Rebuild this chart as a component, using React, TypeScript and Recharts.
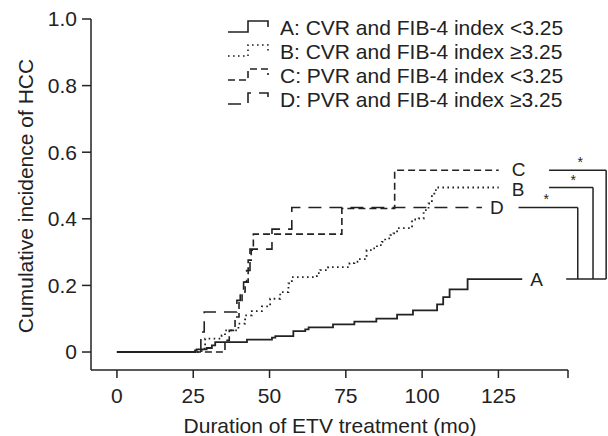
import { LineChart, Line, XAxis, YAxis, ReferenceLine, ReferenceDot } from 'recharts';

// months of ETV treatment at each step, and cumulative incidence after the step
const monthsA = [0, 25.6, 26.1, 29.4, 31.1, 32.2, 42.6, 50.8, 51.9, 57.8, 61.7, 62.8, 70.8, 77.8, 85.0, 91.8, 97.0, 104.9, 106.9, 109.0, 114.9, 132.8];
const incidenceA = [0, 0.005, 0.008, 0.012, 0.02, 0.03, 0.037, 0.043, 0.048, 0.063, 0.068, 0.074, 0.083, 0.091, 0.1, 0.112, 0.125, 0.143, 0.165, 0.188, 0.219, 0.219];

const monthsB = [0, 27.8, 28.9, 34.3, 35.4, 39.8, 42.0, 44.2, 47.5, 50.2, 53.5, 56.2, 57.3, 65.5, 66.6, 69.2, 76.2, 77.8, 79.2, 81.8, 83.6, 85.2, 86.8, 87.9, 89.6, 90.6, 91.8, 96.7, 98.9, 100.5, 102.1, 103.2, 104.0, 104.9, 125.1];
const incidenceB = [0, 0.01, 0.04, 0.05, 0.065, 0.085, 0.11, 0.123, 0.137, 0.16, 0.18, 0.206, 0.225, 0.237, 0.246, 0.255, 0.267, 0.271, 0.279, 0.306, 0.311, 0.321, 0.331, 0.341, 0.351, 0.356, 0.372, 0.398, 0.401, 0.426, 0.446, 0.471, 0.486, 0.494, 0.494];

const monthsC = [0, 35.4, 36.8, 38.7, 40.0, 41.0, 42.0, 43.0, 44.0, 44.7, 73.7, 91.0, 125.1];
const incidenceC = [0, 0.035, 0.065, 0.105, 0.155, 0.18, 0.21, 0.276, 0.306, 0.354, 0.431, 0.546, 0.546];

const monthsD = [0, 27.5, 28.6, 39.3, 40.4, 41.5, 42.5, 43.6, 50.8, 57.3, 119.6];
const incidenceD = [0, 0.06, 0.12, 0.155, 0.18, 0.21, 0.245, 0.309, 0.369, 0.434, 0.434];

const xTicks = [0, 25, 50, 75, 100, 125, 147.8];
const yTicks = [0, 0.2, 0.4, 0.6, 0.8, 1.0];

const legendLabels = [
  'A: CVR and FIB-4 index <3.25',
  'B: CVR and FIB-4 index ≥3.25',
  'C: PVR and FIB-4 index <3.25',
  'D: PVR and FIB-4 index ≥3.25',
];

const toPoints = (xs: number[], ys: number[]) => xs.map((x, i) => ({ x, y: ys[i] }));

const ptsA = toPoints(monthsA, incidenceA);
const ptsB = toPoints(monthsB, incidenceB);
const ptsC = toPoints(monthsC, incidenceC);
const ptsD = toPoints(monthsD, incidenceD);

const INK = '#222';
const FONT = '"Liberation Sans", Arial, Helvetica, sans-serif';
const dashes = [undefined, '1.6 3.4', '7 4', '13 8'];

const last = (a: number[]) => a[a.length - 1];
const endA = last(incidenceA);
const endB = last(incidenceB);
const endC = last(incidenceC);
const endD = last(incidenceD);

// bracket columns (months, outside the plotted range)
const brC = 160.3, brB = 156.0, brD = 151.0;

const letter = (txt: string, dx: number, dy = 0) => (p: any) => (
  <text x={p.cx + dx} y={p.cy + dy} dy="0.36em" fontSize={19} fontFamily={FONT} fill={INK}>{txt}</text>
);
const star = (p: any) => (
  <text x={p.cx} y={p.cy - 3} textAnchor="middle" fontSize={14} fontFamily={FONT} fill={INK}>*</text>
);

function Overlay() {
  const rows = [27, 51, 75, 99];
  return (
    <svg width={608} height={436} style={{ position: 'absolute', left: 0, top: 0, pointerEvents: 'none' }}>
      {rows.map((cy, i) => (
        <g key={i}>
          <path
            d={`M228 ${cy + 5} H248 V${cy - 6} H268 V${cy}`}
            fill="none"
            stroke={INK}
            strokeWidth={1.6}
            strokeDasharray={dashes[i]}
          />
          <text x={280} y={cy} dy="0.36em" fontSize={21} fontFamily={FONT} fill={INK}>{legendLabels[i]}</text>
        </g>
      ))}
      <text x={25} y={196} transform="rotate(-90 25 196)" textAnchor="middle" dy="0.36em" fontSize={21} fontFamily={FONT} fill={INK}>
        Cumulative incidence of HCC
      </text>
      <text x={330} y={433} textAnchor="middle" fontSize={21} fontFamily={FONT} fill={INK}>
        Duration of ETV treatment (mo)
      </text>
    </svg>
  );
}

export default function App() {
  const tickStyle = { fontSize: 21, fontFamily: FONT, fill: INK };
  return (
    <div style={{ position: 'fixed', left: 0, top: 0, width: 608, height: 436, background: '#fff' }}>
      <LineChart width={608} height={436} margin={{ top: 19, right: 40, left: 31, bottom: 36 }}>
        <XAxis
          dataKey="x"
          type="number"
          domain={[-8.5, 147.8]}
          ticks={xTicks}
          allowDataOverflow
          tickFormatter={(v: number) => (v > 130 ? '' : String(v))}
          stroke={INK}
          strokeWidth={1.5}
          tickSize={8}
          tickMargin={10}
          height={30}
          tick={tickStyle}
        />
        <YAxis
          dataKey="y"
          type="number"
          domain={[-0.054, 1]}
          ticks={yTicks}
          allowDataOverflow
          tickFormatter={(v: number) => (v === 0 ? '0' : v.toFixed(1))}
          stroke={INK}
          strokeWidth={1.5}
          tickSize={9}
          tickMargin={5}
          width={60}
          tick={tickStyle}
        />
        <Line data={ptsA} dataKey="y" type="stepAfter" stroke={INK} strokeWidth={1.8} dot={false} isAnimationActive={false} />
        <Line data={ptsB} dataKey="y" type="stepAfter" stroke={INK} strokeWidth={1.8} strokeDasharray={dashes[1]} dot={false} isAnimationActive={false} />
        <Line data={ptsC} dataKey="y" type="stepAfter" stroke={INK} strokeWidth={1.6} strokeDasharray={dashes[2]} dot={false} isAnimationActive={false} />
        <Line data={ptsD} dataKey="y" type="stepAfter" stroke={INK} strokeWidth={1.6} strokeDasharray={dashes[3]} dot={false} isAnimationActive={false} />

        <ReferenceDot x={last(monthsA)} y={endA} r={1} shape={letter('A', 8)} ifOverflow="visible" />
        <ReferenceDot x={last(monthsB)} y={endB} r={1} shape={letter('B', 13, 2)} ifOverflow="visible" />
        <ReferenceDot x={last(monthsC)} y={endC} r={1} shape={letter('C', 13, -1)} ifOverflow="visible" />
        <ReferenceDot x={last(monthsD)} y={endD} r={1} shape={letter('D', 8)} ifOverflow="visible" />

        <ReferenceLine segment={[{ x: 141.6, y: endC }, { x: brC, y: endC }]} stroke={INK} strokeWidth={1.5} ifOverflow="visible" />
        <ReferenceLine segment={[{ x: brC, y: endC }, { x: brC, y: endA }]} stroke={INK} strokeWidth={1.5} ifOverflow="visible" />
        <ReferenceLine segment={[{ x: 141.6, y: endB }, { x: brB, y: endB }]} stroke={INK} strokeWidth={1.5} ifOverflow="visible" />
        <ReferenceLine segment={[{ x: brB, y: endB }, { x: brB, y: endA }]} stroke={INK} strokeWidth={1.5} ifOverflow="visible" />
        <ReferenceLine segment={[{ x: 131.6, y: endD }, { x: brD, y: endD }]} stroke={INK} strokeWidth={1.5} ifOverflow="visible" />
        <ReferenceLine segment={[{ x: brD, y: endD }, { x: brD, y: endA }]} stroke={INK} strokeWidth={1.5} ifOverflow="visible" />
        <ReferenceLine segment={[{ x: 147.2, y: endA }, { x: brC, y: endA }]} stroke={INK} strokeWidth={1.5} ifOverflow="visible" />

        <ReferenceDot x={151.8} y={endC} r={1} shape={star} ifOverflow="visible" />
        <ReferenceDot x={149.5} y={endB} r={1} shape={star} ifOverflow="visible" />
        <ReferenceDot x={140.7} y={endD} r={1} shape={star} ifOverflow="visible" />
      </LineChart>
      <Overlay />
    </div>
  );
}
